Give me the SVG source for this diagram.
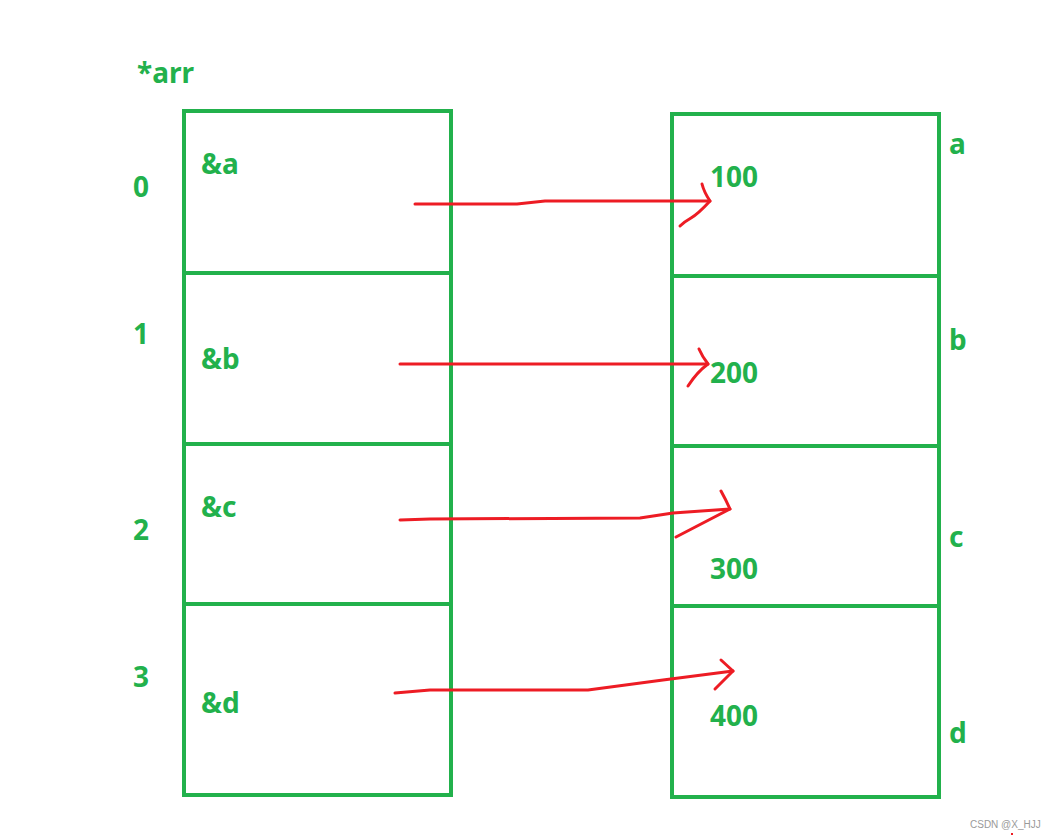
<svg xmlns="http://www.w3.org/2000/svg" width="1052" height="838" viewBox="0 0 1052 838">
<style>
.box{fill:none;stroke:#22b14c;stroke-width:4}
.t{font-family:"Noto Sans","Open Sans","DejaVu Sans",sans-serif;font-weight:bold;font-size:28px;fill:#22b14c}
.arr{fill:none;stroke:#ed1c24;stroke-width:3;stroke-linecap:round;stroke-linejoin:round}
.wm{font-family:"Liberation Sans",Arial,sans-serif;font-size:10px;fill:#9a9a9a}
</style>
<rect width="1052" height="838" fill="#ffffff"/>
<text class="t" x="137" y="83">*arr</text>
<g id="arr-0">
<rect class="box" x="184" y="111" width="267" height="162"/>
<text class="t" x="133" y="197">0</text>
<text class="t" x="201" y="174">&amp;a</text>
</g>
<g id="arr-1">
<rect class="box" x="184" y="273" width="267" height="171"/>
<text class="t" x="133" y="344">1</text>
<text class="t" x="201" y="369">&amp;b</text>
</g>
<g id="arr-2">
<rect class="box" x="184" y="444" width="267" height="160"/>
<text class="t" x="133" y="540">2</text>
<text class="t" x="201" y="517">&amp;c</text>
</g>
<g id="arr-3">
<rect class="box" x="184" y="604" width="267" height="191"/>
<text class="t" x="133" y="687">3</text>
<text class="t" x="201" y="713">&amp;d</text>
</g>
<g id="var-a">
<rect class="box" x="672" y="114" width="267" height="162"/>
<text class="t" x="710" y="187">100</text>
<text class="t" x="949" y="154">a</text>
</g>
<g id="var-b">
<rect class="box" x="672" y="276" width="267" height="170"/>
<text class="t" x="710" y="383">200</text>
<text class="t" x="949" y="350">b</text>
</g>
<g id="var-c">
<rect class="box" x="672" y="446" width="267" height="160"/>
<text class="t" x="710" y="579">300</text>
<text class="t" x="949" y="547">c</text>
</g>
<g id="var-d">
<rect class="box" x="672" y="606" width="267" height="191"/>
<text class="t" x="710" y="726">400</text>
<text class="t" x="949" y="743">d</text>
</g>
<g id="connectors">
<path class="arr" d="M415,204 L517,204 L545,201 L710,201"/>
<path class="arr" d="M702,184 Q704,192 710,201 Q698,214 691,218 Q684,222 680,226"/>
<path class="arr" d="M400,364 L708,364"/>
<path class="arr" d="M699,349 Q702,356 708,364 Q697,372 688,386"/>
<path class="arr" d="M400,520 L430,519 L640,518 L673,513 L730,509"/>
<path class="arr" d="M721,491 Q726,500 730,509 L676,537"/>
<path class="arr" d="M395,693 L430,690 L588,690 L663,680 L733,671"/>
<path class="arr" d="M721,660 L733,671 L715,689"/>
</g>
<text class="wm" x="970" y="828">CSDN @X_HJJ</text>
<rect x="1011" y="833" width="2" height="2" fill="#ed1c24"/>
</svg>
